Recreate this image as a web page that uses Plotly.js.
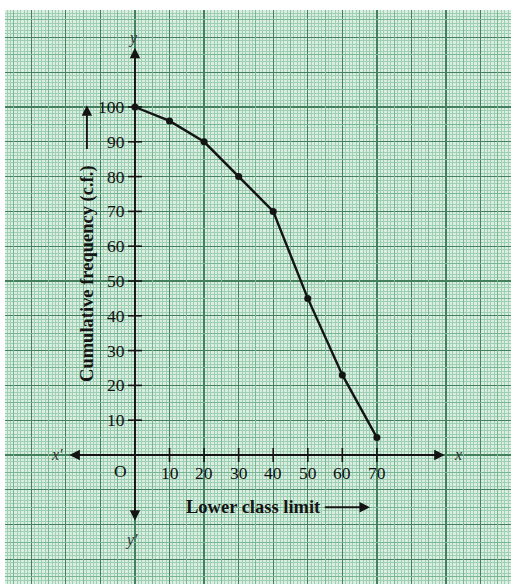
<!DOCTYPE html>
<html><head><meta charset="utf-8">
<script src="https://cdn.plot.ly/plotly-3.0.1.min.js"></script>
<style>html,body{margin:0;padding:0;background:#fff}#chart{width:511px;height:584px}</style>
</head><body><div id="chart"></div>
<script>
// ---- data ----
const lowerLimits = [0, 10, 20, 30, 40, 50, 60, 70];
const cumFreq = [100, 96, 90, 80, 70, 45, 23, 5];
const xTickVals = [10, 20, 30, 40, 50, 60, 70];
const yTickVals = [10, 20, 30, 40, 50, 60, 70, 80, 90, 100];
const xTitle = 'Lower class limit';
const yTitle = 'Cumulative frequency (c.f.)';

// ---- styling ----
const serif = "'Liberation Serif','Times New Roman',serif";
const ink = '#141414';
const xRange = [-37.6, 108.8];
const yRange = [-37.07, 127.87];

const gridAxis = (range) => ({
  range: range, fixedrange: true,
  showline: false, zeroline: false, ticks: '', showticklabels: false,
  tick0: 0, dtick: 10, showgrid: true, gridcolor: '#44805d', gridwidth: 1.3,
  minor: {tick0: 0, dtick: 1, showgrid: true, gridcolor: '#9fcfb2', gridwidth: 1, ticks: ''}
});
const midAxis = (range, over) => ({
  range: range, fixedrange: true, overlaying: over,
  showline: false, zeroline: false, ticks: '', showticklabels: false,
  tick0: 5, dtick: 10, showgrid: true, gridcolor: '#78b592', gridwidth: 1
});

const traces = [
  {x: [], y: [], xaxis: 'x2', yaxis: 'y2', type: 'scatter', hoverinfo: 'skip', showlegend: false},
  {x: xTickVals, y: xTickVals.map(() => 0), type: 'scatter', mode: 'markers', hoverinfo: 'skip',
   marker: {symbol: 'line-ns-open', size: 10, color: ink, line: {width: 1.6, color: ink}}, showlegend: false},
  {x: yTickVals.map(() => 0), y: yTickVals, type: 'scatter', mode: 'markers', hoverinfo: 'skip',
   marker: {symbol: 'line-ew-open', size: 10, color: ink, line: {width: 1.6, color: ink}}, showlegend: false},
  {x: lowerLimits, y: cumFreq, type: 'scatter', mode: 'lines+markers',
   line: {color: ink, width: 2.4}, marker: {size: 7, color: ink}, showlegend: false}
];

const arrow = (x, y, ax, ay, both) => ({
  x: x, y: y, ax: ax, ay: ay, xref: 'x', yref: 'y', axref: 'x', ayref: 'y',
  text: '', showarrow: true, arrowhead: 2, arrowsize: 1.1, arrowwidth: 1.9,
  arrowcolor: ink, arrowside: both ? 'end+start' : 'end', startarrowhead: 2, startarrowsize: 1.1, standoff: 0, startstandoff: 0
});
const label = (x, y, text, opts) => Object.assign({
  x: x, y: y, xref: 'x', yref: 'y', text: text, showarrow: false,
  font: {family: serif, size: 17.5, color: '#111'}
}, opts || {});

const annotations = [
  arrow(89.6, 0, -19.4, 0, true),
  arrow(0, 117, 0, -19.3, true),
  arrow(-13.9, 100.5, -13.9, 87.5, false),
  arrow(68, -15, 54.5, -15, false),
  label(54.3, -15, '<b>' + xTitle + '</b>', {xanchor: 'right', font: {family: serif, size: 18.5, color: ink}}),
  label(-13.9, 52, '<b>' + yTitle + '</b>', {textangle: -90, font: {family: serif, size: 18.5, color: ink}}),
  label(0, 0, 'O', {xshift: -14, yshift: -16, font: {family: serif, size: 17.5, color: '#111'}}),
  label(0, 119.8, '<i>y</i>', {xshift: -2, font: {family: serif, size: 16, color: '#333'}}),
  label(0, -24.4, '<i>y′</i>', {xshift: -3, font: {family: serif, size: 16, color: '#333'}}),
  label(93.6, 0, '<i>x</i>', {font: {family: serif, size: 16, color: '#333'}}),
  label(-22.5, 0, '<i>x′</i>', {font: {family: serif, size: 16, color: '#333'}})
].concat(
  xTickVals.map(v => label(v, 0, String(v), {yshift: -18})),
  yTickVals.map(v => label(0, v, String(v), {xanchor: 'right', xshift: -8}))
);

const layout = {
  width: 511, height: 584,
  margin: {l: 5, r: 0, t: 10, b: 0, pad: 0},
  paper_bgcolor: '#ffffff', plot_bgcolor: '#d9eee1',
  xaxis: gridAxis(xRange), yaxis: gridAxis(yRange),
  xaxis2: midAxis(xRange, 'x'), yaxis2: midAxis(yRange, 'y'),
  annotations: annotations, showlegend: false, hovermode: false
};
layout.yaxis2.side = 'right';
layout.xaxis2.side = 'top';

Plotly.newPlot('chart', traces, layout, {displayModeBar: false, staticPlot: true});
</script></body></html>
